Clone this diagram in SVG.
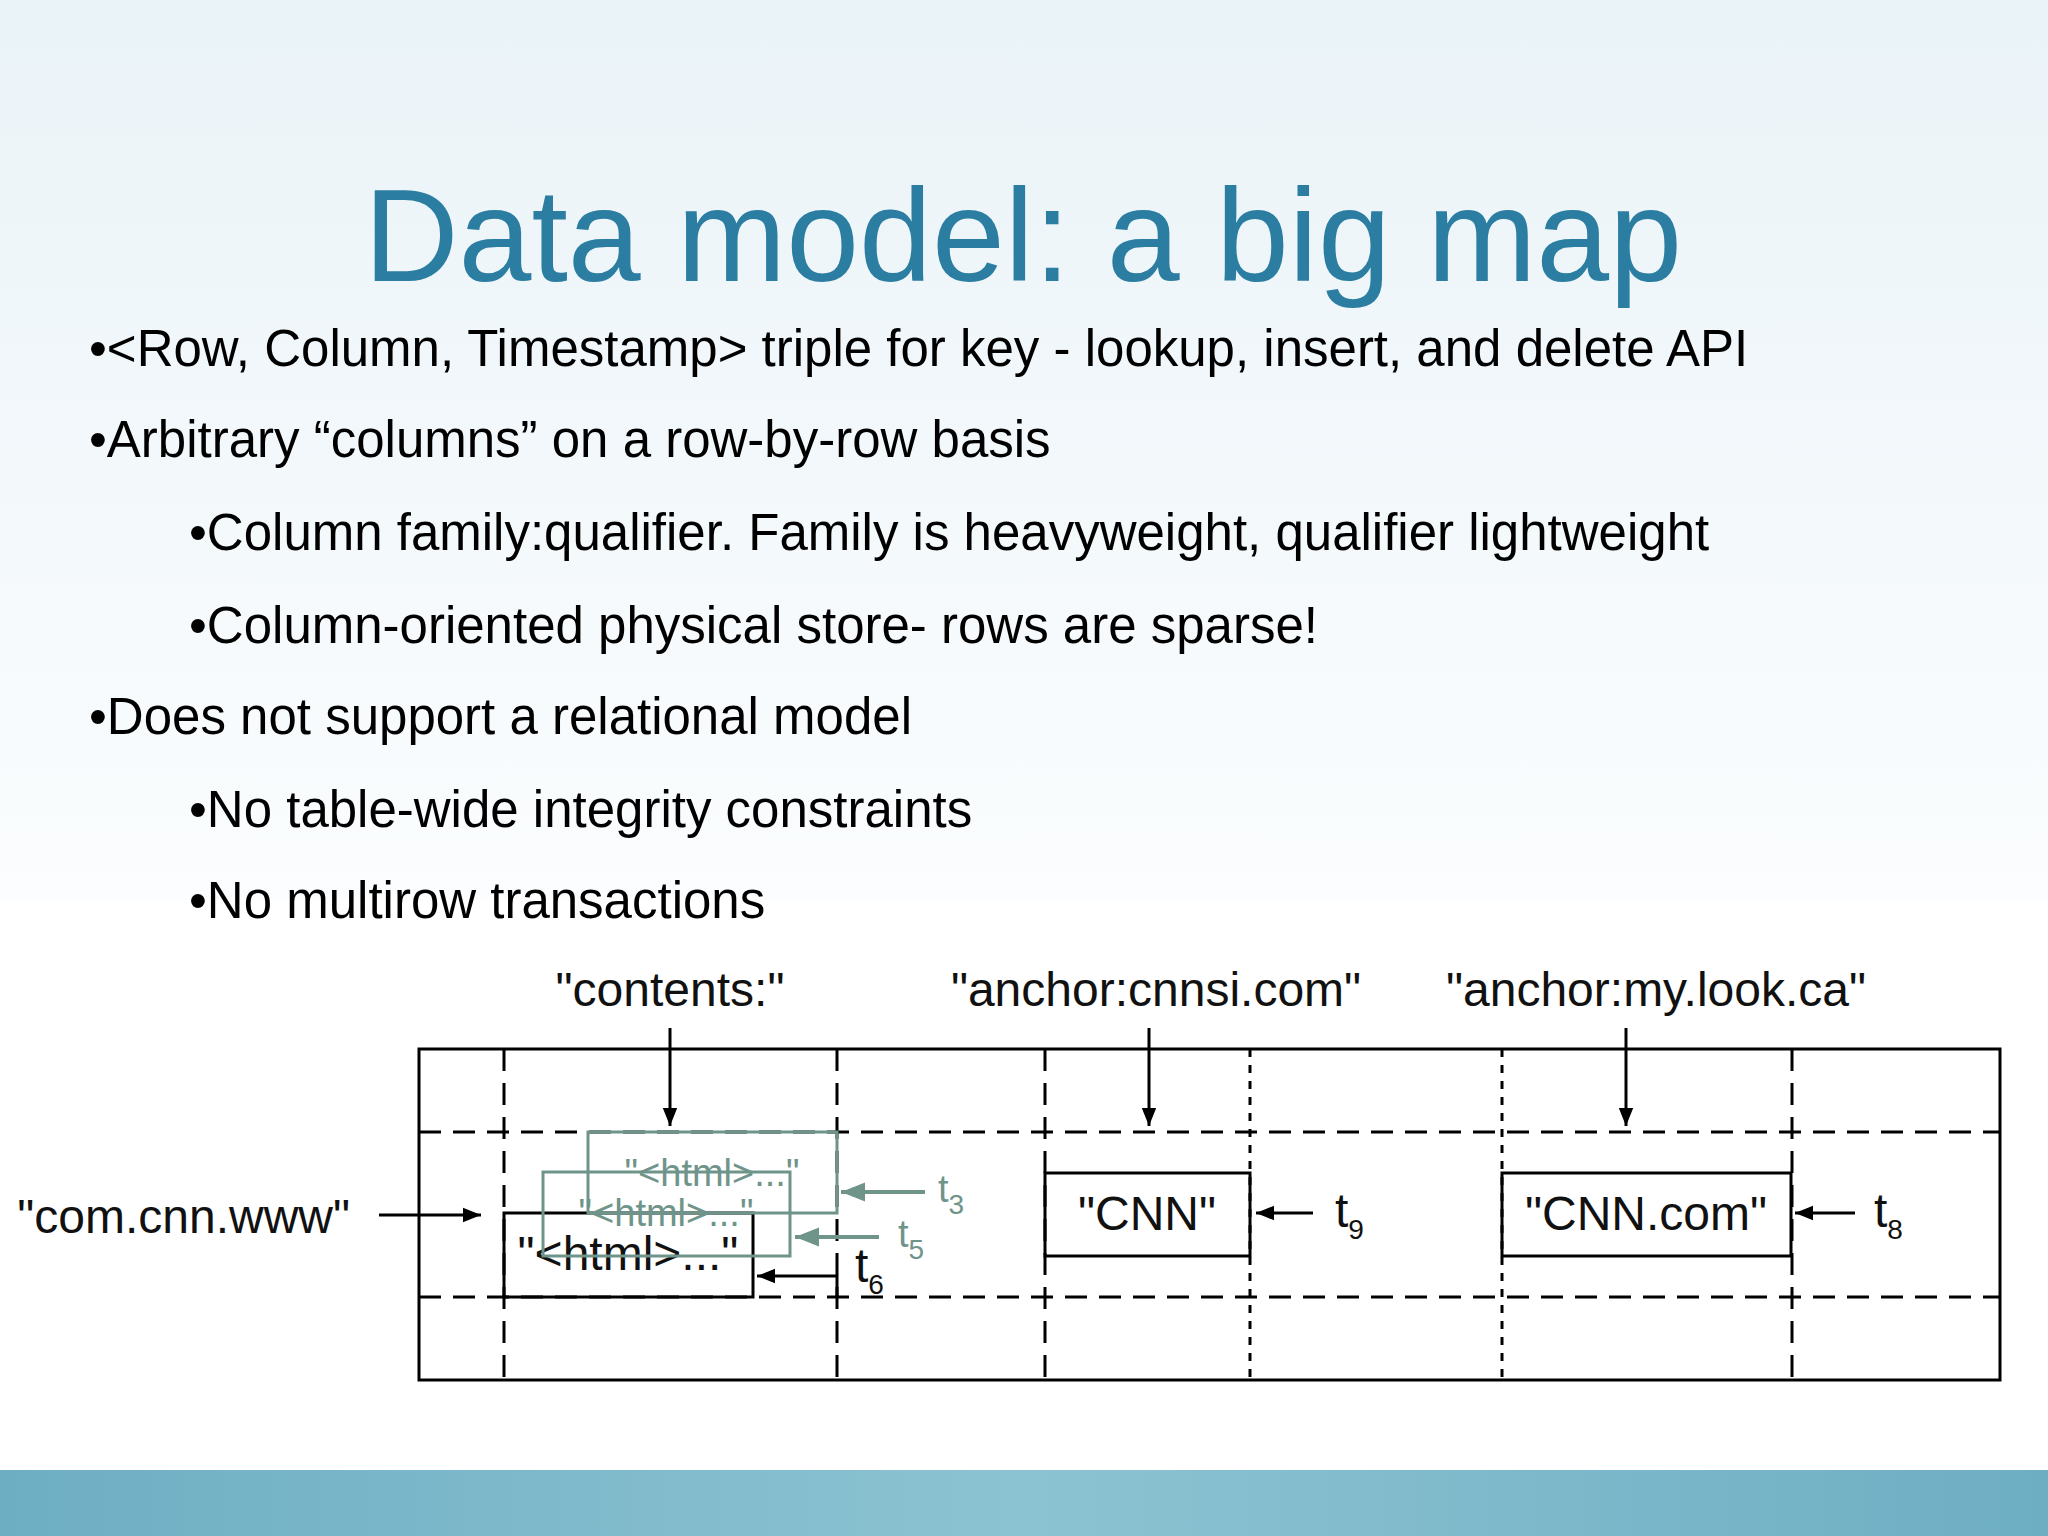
<svg xmlns="http://www.w3.org/2000/svg" width="2048" height="1536" viewBox="0 0 2048 1536">
<defs>
<linearGradient id="bg" x1="0" y1="0" x2="0" y2="1">
<stop offset="0" stop-color="#eaf3f8"/><stop offset="1" stop-color="#fbfdfe"/>
</linearGradient>
<linearGradient id="band" x1="0" y1="0" x2="1" y2="0">
<stop offset="0" stop-color="#6eaec3"/><stop offset="0.5" stop-color="#8cc3d2"/><stop offset="1" stop-color="#6eaec3"/>
</linearGradient>
<marker id="ah" viewBox="0 0 10 10" refX="10" refY="5" markerWidth="6" markerHeight="6" orient="auto"><path d="M0,1 L10,5 L0,9 z" fill="#000"/></marker>
<marker id="ahg" viewBox="0 0 10 10" refX="10" refY="5" markerWidth="6" markerHeight="6" orient="auto"><path d="M0,1 L10,5 L0,9 z" fill="#6f948a"/></marker>
</defs>
<style>
.b{font-family:"Liberation Sans",Arial,sans-serif;font-size:51px;fill:#000}
.d{font-family:"Liberation Sans",Arial,sans-serif;font-size:48px;fill:#111}
.g{font-family:"Liberation Sans",Arial,sans-serif;font-size:38px;fill:#6f948a}
.dash{stroke:#000;stroke-width:3;stroke-dasharray:22,12;fill:none}
.dot{stroke:#000;stroke-width:3;stroke-dasharray:8,8;fill:none}
.box{stroke:#000;stroke-width:3;fill:none}
.gbox{stroke:#6f948a;stroke-width:3;fill:none}
.ar{stroke:#000;stroke-width:3;marker-end:url(#ah)}
.arg{stroke:#6f948a;stroke-width:4;marker-end:url(#ahg)}
</style>
<rect width="2048" height="900" fill="url(#bg)"/>
<rect y="900" width="2048" height="570" fill="#fff"/>
<rect y="1470" width="2048" height="66" fill="url(#band)"/>
<text x="1023" y="281" text-anchor="middle" font-family="Liberation Sans, Arial, sans-serif" font-size="131" fill="#2b7ea1">Data model: a big map</text>
<g id="bullets">
<text class="b" x="89" y="366">•&lt;Row, Column, Timestamp&gt; triple for key - lookup, insert, and delete API</text>
<text class="b" x="89" y="457">•Arbitrary “columns” on a row-by-row basis</text>
<text class="b" x="189" y="550">•Column family:qualifier. Family is heavyweight, qualifier lightweight</text>
<text class="b" x="189" y="643">•Column-oriented physical store- rows are sparse!</text>
<text class="b" x="89" y="734">•Does not support a relational model</text>
<text class="b" x="189" y="827">•No table-wide integrity constraints</text>
<text class="b" x="189" y="918">•No multirow transactions</text>
</g>
<g id="table">
<rect class="box" x="419" y="1049" width="1581" height="331"/>
<line class="dash" x1="419" y1="1132" x2="2000" y2="1132"/>
<line class="dash" x1="419" y1="1297" x2="2000" y2="1297"/>
<line class="dash" x1="504" y1="1049" x2="504" y2="1380"/>
<line class="dash" x1="837" y1="1049" x2="837" y2="1380"/>
<line class="dash" x1="1045" y1="1049" x2="1045" y2="1380"/>
<line class="dot" x1="1250" y1="1049" x2="1250" y2="1380"/>
<line class="dot" x1="1502" y1="1049" x2="1502" y2="1380"/>
<line class="dash" x1="1792" y1="1049" x2="1792" y2="1380"/>
</g>
<g id="labels">
<text class="d" x="670" y="1006" text-anchor="middle">"contents:"</text>
<text class="d" x="1156" y="1006" text-anchor="middle">"anchor:cnnsi.com"</text>
<text class="d" x="1656" y="1006" text-anchor="middle">"anchor:my.look.ca"</text>
<text class="d" x="350" y="1233" text-anchor="end">"com.cnn.www"</text>
</g>
<g id="cells">
<rect class="box" x="504" y="1213" width="249" height="84"/>
<text class="d" x="628" y="1270" text-anchor="middle" font-size="42">"&lt;html&gt;..."</text>
<rect class="gbox" x="588" y="1132" width="249" height="81"/>
<text class="g" x="712" y="1186" text-anchor="middle">"&lt;html&gt;..."</text>
<rect class="gbox" x="543" y="1172" width="247" height="84"/>
<text class="g" x="666" y="1226" text-anchor="middle">"&lt;html&gt;..."</text>
<rect class="box" x="1045" y="1173" width="205" height="83"/>
<text class="d" x="1147" y="1230" text-anchor="middle">"CNN"</text>
<rect class="box" x="1502" y="1173" width="289" height="83"/>
<text class="d" x="1646" y="1230" text-anchor="middle">"CNN.com"</text>
</g>
<g id="connectors">
<line class="ar" x1="670" y1="1028" x2="670" y2="1126"/>
<line class="ar" x1="1149" y1="1028" x2="1149" y2="1126"/>
<line class="ar" x1="1626" y1="1028" x2="1626" y2="1126"/>
<line class="ar" x1="379" y1="1215" x2="481" y2="1215"/>
<line class="ar" x1="1313" y1="1213" x2="1256" y2="1213"/>
<line class="ar" x1="1855" y1="1213" x2="1795" y2="1213"/>
<polyline points="837,1297 837,1276 757,1276" fill="none" stroke="#000" stroke-width="3" marker-end="url(#ah)"/>
<line class="arg" x1="925" y1="1192" x2="841" y2="1192"/>
<line class="arg" x1="879" y1="1237" x2="795" y2="1237"/>
</g>
<g id="times">
<text class="g" x="938" y="1202" font-size="40">t<tspan font-size="28" dy="12">3</tspan></text>
<text class="g" x="898" y="1247" font-size="40">t<tspan font-size="28" dy="12">5</tspan></text>
<text class="d" x="855" y="1282" font-size="40">t<tspan font-size="28" dy="12">6</tspan></text>
<text class="d" x="1335" y="1227" font-size="40">t<tspan font-size="28" dy="12">9</tspan></text>
<text class="d" x="1874" y="1227" font-size="40">t<tspan font-size="28" dy="12">8</tspan></text>
</g>
</svg>
